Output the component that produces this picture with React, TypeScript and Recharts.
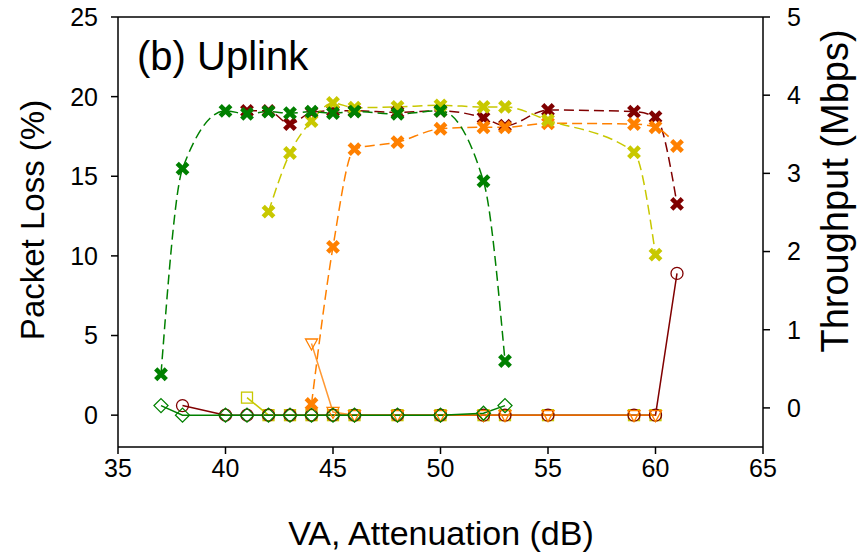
import React from 'react'
import { ComposedChart, Line, XAxis, YAxis, ReferenceLine } from 'recharts'

// VA attenuation steps (dB)
const attenuation = [37, 38, 40, 41, 42, 43, 44, 45, 46, 48, 50, 52, 53, 55, 59, 60, 61]

// throughput (Mbps), right axis
const tputGreen = [0.43, 3.06, 3.8, 3.76, 3.79, 3.77, 3.79, 3.77, 3.79, 3.76, 3.8, 2.9, 0.6, null, null, null, null]
const tputRed = [null, null, null, 3.8, 3.8, 3.63, 3.78, 3.8, 3.8, 3.78, 3.8, 3.71, 3.61, 3.81, 3.79, 3.72, 2.61]
const tputYellow = [null, null, null, null, 2.51, 3.26, 3.67, 3.9, 3.84, 3.85, 3.87, 3.85, 3.85, 3.68, 3.27, 1.96, null]
const tputOrange = [null, null, null, null, null, null, 0.05, 2.06, 3.31, 3.4, 3.57, 3.59, 3.59, 3.64, 3.63, 3.59, 3.35]

// packet loss (%), left axis
const lossGreen = [0.6, 0, 0, 0, 0, 0, 0, 0, 0, 0, 0, 0.12, 0.6, null, null, null, null]
const lossRed = [null, 0.6, 0, 0, 0, 0, 0, 0, 0, 0, 0, 0, 0, 0, 0, 0, 8.9]
const lossYellow = [null, null, null, 1.1, 0, 0, 0, 0, 0, 0, 0, 0, 0, 0, 0, 0, null]
const lossOrange = [null, null, null, null, null, null, 4.5, 0.2, 0, 0, 0, 0, 0, 0, 0, 0, null]

const xTicks = [35, 40, 45, 50, 55, 60, 65]
const lossTicks = [0, 5, 10, 15, 20, 25]
const tputTicks = [0, 1, 2, 3, 4, 5]

const GREEN = '#008000'
const RED = '#800000'
const YELLOW = '#C8C800'
const ORANGE = '#FF8000'
const FONT = '"Liberation Sans", Arial, sans-serif'

const data = attenuation.map((x, i) => ({
  x,
  tputGreen: tputGreen[i],
  tputRed: tputRed[i],
  tputYellow: tputYellow[i],
  tputOrange: tputOrange[i],
  lossGreen: lossGreen[i],
  lossRed: lossRed[i],
  lossYellow: lossYellow[i],
  lossOrange: lossOrange[i],
}))

const ok = (p: any) => Number.isFinite(p.cx) && Number.isFinite(p.cy) && p.value != null

const crossDot = (color: string) => (p: any) => {
  if (!ok(p)) return <g key={p.index} />
  const { cx, cy } = p
  const s = 5.3
  return (
    <path key={p.index} d={`M${cx - s},${cy - s}L${cx + s},${cy + s}M${cx - s},${cy + s}L${cx + s},${cy - s}`}
      stroke={color} strokeWidth={4.6} fill="none" />
  )
}

const circleDot = (color: string) => (p: any) => {
  if (!ok(p)) return <g key={p.index} />
  return <circle key={p.index} cx={p.cx} cy={p.cy} r={6} stroke={color} strokeWidth={1.3} fill="none" />
}

const diamondDot = (color: string) => (p: any) => {
  if (!ok(p)) return <g key={p.index} />
  const { cx, cy } = p
  const s = 7
  return <polygon key={p.index} points={`${cx},${cy - s} ${cx + s},${cy} ${cx},${cy + s} ${cx - s},${cy}`}
    stroke={color} strokeWidth={1.3} fill="none" />
}

const squareDot = (color: string) => (p: any) => {
  if (!ok(p)) return <g key={p.index} />
  return <rect key={p.index} x={p.cx - 5.5} y={p.cy - 5.5} width={11} height={11} stroke={color} strokeWidth={1.3} fill="none" />
}

const triDot = (color: string) => (p: any) => {
  if (!ok(p)) return <g key={p.index} />
  const { cx, cy } = p
  return <polygon key={p.index} points={`${cx - 6},${cy - 4.5} ${cx + 6},${cy - 4.5} ${cx},${cy + 6.5}`}
    stroke={color} strokeWidth={1.3} fill="none" />
}

const tickStyle = { fontFamily: FONT, fontSize: 25, fill: '#000' }

export default function App() {
  return (
    <div style={{ position: 'absolute', left: 0, top: 0, width: 860, height: 553, background: '#fff' }}>
      <ComposedChart width={860} height={553} data={data} margin={{ top: 17, right: 0, bottom: 46, left: 0 }}>
        <XAxis dataKey="x" type="number" domain={[35, 65]} ticks={xTicks} allowDataOverflow
          height={60} tickSize={7} tickMargin={5} tick={tickStyle}
          axisLine={{ stroke: '#000', strokeWidth: 1.5 }} tickLine={{ stroke: '#000', strokeWidth: 1.5 }} />
        <YAxis yAxisId="left" orientation="left" domain={[-2, 25]} ticks={lossTicks} allowDataOverflow
          width={118} tickSize={7} tickMargin={13} tick={tickStyle}
          axisLine={{ stroke: '#000', strokeWidth: 1.5 }} tickLine={{ stroke: '#000', strokeWidth: 1.5 }} />
        <YAxis yAxisId="right" orientation="right" domain={[-0.5, 5]} ticks={tputTicks} allowDataOverflow
          width={97} tickSize={7} tickMargin={17} tick={tickStyle}
          axisLine={{ stroke: '#000', strokeWidth: 1.5 }} tickLine={{ stroke: '#000', strokeWidth: 1.5 }} />
        <ReferenceLine yAxisId="left" y={25} stroke="#000" strokeWidth={1.5} />

        {/* packet loss: solid lines, open markers */}
        <Line yAxisId="left" dataKey="lossYellow" type="linear" stroke={YELLOW} strokeWidth={1.5}
          dot={squareDot(YELLOW)} activeDot={false} connectNulls isAnimationActive={false} />
        <Line yAxisId="left" dataKey="lossRed" type="linear" stroke={RED} strokeWidth={1.5}
          dot={circleDot(RED)} activeDot={false} connectNulls isAnimationActive={false} />
        <Line yAxisId="left" dataKey="lossOrange" type="linear" stroke={ORANGE} strokeWidth={1.5} strokeOpacity={0.8}
          dot={triDot(ORANGE)} activeDot={false} connectNulls isAnimationActive={false} />
        <Line yAxisId="left" dataKey="lossGreen" type="linear" stroke={GREEN} strokeWidth={1.5}
          dot={diamondDot(GREEN)} activeDot={false} connectNulls isAnimationActive={false} />

        {/* throughput: dashed curves, crosses */}
        <Line yAxisId="right" dataKey="tputRed" type="monotone" stroke={RED} strokeWidth={1.5} strokeDasharray="10 5"
          dot={crossDot(RED)} activeDot={false} connectNulls isAnimationActive={false} />
        <Line yAxisId="right" dataKey="tputOrange" type="monotone" stroke={ORANGE} strokeWidth={1.5} strokeDasharray="10 5"
          dot={crossDot(ORANGE)} activeDot={false} connectNulls isAnimationActive={false} />
        <Line yAxisId="right" dataKey="tputYellow" type="monotone" stroke={YELLOW} strokeWidth={1.5} strokeDasharray="10 5"
          dot={crossDot(YELLOW)} activeDot={false} connectNulls isAnimationActive={false} />
        <Line yAxisId="right" dataKey="tputGreen" type="monotone" stroke={GREEN} strokeWidth={1.5} strokeDasharray="10 5"
          dot={crossDot(GREEN)} activeDot={false} connectNulls isAnimationActive={false} />
      </ComposedChart>

      <svg width={860} height={553} style={{ position: 'absolute', left: 0, top: 0, pointerEvents: 'none' }}>
        <text x={137} y={70} fontFamily={FONT} fontSize={40} fill="#000">(b) Uplink</text>
        <text x={441} y={545} textAnchor="middle" fontFamily={FONT} fontSize={34} fill="#000">VA, Attenuation (dB)</text>
        <text transform="translate(44,220) rotate(-90)" textAnchor="middle" fontFamily={FONT} fontSize={33} fill="#000">Packet Loss (%)</text>
        <text transform="translate(848,191) rotate(-90)" textAnchor="middle" fontFamily={FONT} fontSize={38} fill="#000">Throughput (Mbps)</text>
      </svg>
    </div>
  )
}
